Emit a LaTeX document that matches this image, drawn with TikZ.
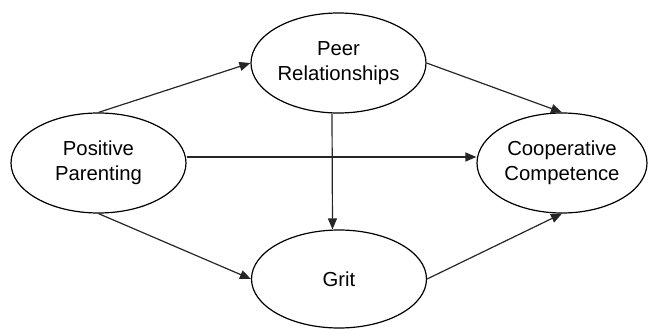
\documentclass[tikz,border=0pt]{standalone}
\usepackage{fontspec}
\setmainfont{Liberation Sans}
\usetikzlibrary{shapes.geometric,arrows.meta}
\begin{document}
\begin{tikzpicture}[x=1pt,y=-1pt,
  oval/.style={draw=black,line width=1.2pt,ellipse,inner sep=0pt,minimum width=175pt,minimum height=100pt,align=center,font=\fontsize{20.3}{25}\selectfont},
  conn/.style={draw=black!85,line width=1.2pt,-{Triangle[length=11pt,width=9pt]}}]
\useasboundingbox (0,0) rectangle (649,329);
\node[oval] (pp) at (98.5,163) {Positive\\Parenting};
\node[oval] (peer) at (338.5,63) {Peer\\Relationships};
\node[oval,minimum height=98pt] (grit) at (339,279) {Grit};
\node[oval,minimum width=170pt] (coop) at (562,163) {Cooperative\\Competence};
\draw[conn] (pp.north) -- (peer.west);
\draw[conn] (pp.south) -- (grit.west);
\draw[conn] ([yshift=6pt]pp.east) -- ([yshift=6pt]coop.west);
\draw[conn] (peer.east) -- (coop.north);
\draw[conn] (grit.east) -- (coop.south);
\draw[conn] ([xshift=-6.5pt]peer.south) -- ([xshift=-6.5pt]grit.north);
\end{tikzpicture}
\end{document}
